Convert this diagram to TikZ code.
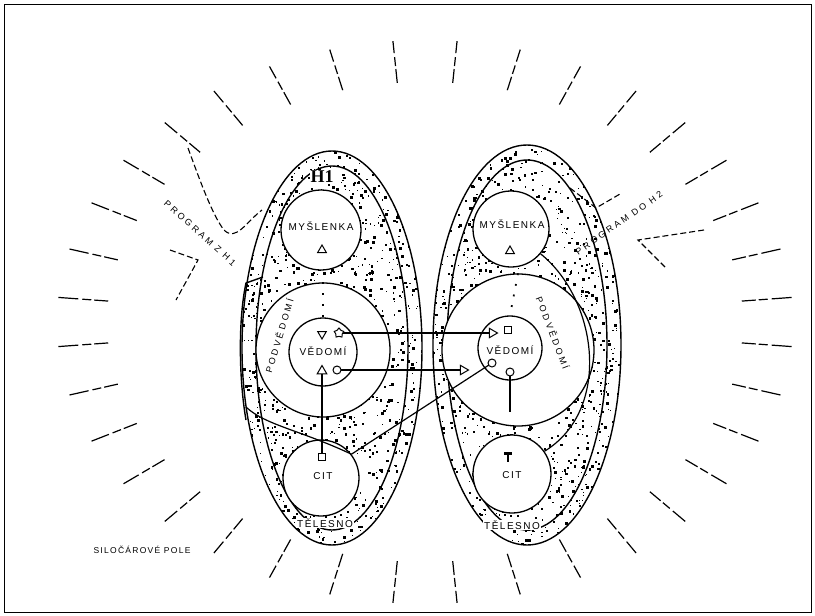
\documentclass[tikz,border=0pt]{standalone}
\usepackage{fontspec}
\setmainfont{Liberation Sans}
\newfontfamily\lab[LetterSpace=15]{Liberation Sans}
\newfontfamily\rlab[LetterSpace=30]{Liberation Sans}
\newfontfamily\hfont{Liberation Serif}
\usetikzlibrary{shapes.geometric,calc}
\begin{document}
\begin{tikzpicture}[x=1pt,y=-1pt,
  line/.style={line width=1.2pt},
  ell/.style={draw, line width=1.4pt},
  circ/.style={circle, draw, line width=1.3pt, fill=white, inner sep=0pt},
  txt/.style={font=\lab\fontsize{10}{11}\selectfont, inner sep=1pt},
  rtxt/.style={font=\rlab\fontsize{9}{10}\selectfont, inner sep=0pt},
  smalltxt/.style={font=\lab\fontsize{8.5}{10}\selectfont, inner sep=1pt},
  field/.style={line width=1.2pt, dash pattern=on 14pt off 3pt on 9pt off 4pt on 22pt off 2pt},
  prog/.style={line width=1.1pt, dash pattern=on 6pt off 3pt},
  sym/.style={draw, line width=1pt, inner sep=0pt, fill=white},
  dotl/.style={line width=1.8pt, dash pattern=on 1.8pt off 9pt},
]
\useasboundingbox (0,0) rectangle (815,616);
\draw[line width=1pt] (4,4) rectangle (811,612);

% force field
\coordinate (C) at (425,322);
\foreach \a in {5,15,...,355}
  \draw[field] ($(C)+(\a:318pt and 240pt)$) -- ($(C)+(\a:368pt and 282pt)$);

% speckle in ellipses
\begin{scope}
\clip (332,348) ellipse [x radius=90pt, y radius=197pt];
\pgfmathsetseed{4242}
\foreach \i in {1,...,1400}{
  \pgfmathsetmacro\px{242+180*rnd}
  \pgfmathsetmacro\py{151+394*rnd}
  \pgfmathsetmacro\s{0.8+2.2*rnd}
  \fill (\px,\py) rectangle ++(\s,\s);
}
\end{scope}
\begin{scope}
\clip (527,345) ellipse [x radius=94pt, y radius=200pt];
\pgfmathsetseed{777}
\foreach \i in {1,...,1500}{
  \pgfmathsetmacro\px{433+188*rnd}
  \pgfmathsetmacro\py{145+400*rnd}
  \pgfmathsetmacro\s{0.8+2.2*rnd}
  \fill (\px,\py) rectangle ++(\s,\s);
}
\end{scope}

% ellipses
\draw[ell] (332,348) ellipse [x radius=90pt, y radius=197pt];
\draw[ell] (332,348) ellipse [x radius=76pt, y radius=182pt];
\draw[ell] (527,345) ellipse [x radius=94pt, y radius=200pt];
\draw[ell] (527,345) ellipse [x radius=80pt, y radius=185pt];
\draw[ell] (263,277) -- (246,283) .. controls (238,320) and (239,380) .. (246,420);

% circles left
\node[circ, minimum size=80pt] (lmys) at (321,230) {};
\node[circ, minimum size=134pt] (lpod) at (323,350) {};
\node[circ, minimum size=68pt] (lved) at (323,352) {};
\node[circ, minimum size=76pt] (lcit) at (321,478) {};
% circles right
\node[circ, minimum size=76pt] (rmys) at (511,229) {};
\node[circ, minimum size=152pt] (rpod) at (518,350) {};
\node[circ, minimum size=64pt] (rved) at (510,348) {};
\node[circ, minimum size=78pt] (rcit) at (512,474) {};

\draw[dotl] (lpod.north) -- (lved.north);
\draw[dotl] (rpod.north) -- (rved.north);

% connectors
\coordinate (rv) at (510,412);
\coordinate (vl) at (246,407);
\draw[line] (339,333) -- (492,333);
\draw[line] (337,370) -- (463,370);
\draw[line] (492,363) -- (lcit.38);
\draw[line] (322,371) -- (322,457);
\draw[line] (510,372) -- (rv);
\draw[line] (rmys.-40) .. controls (598,300) and (612,410) .. (rcit.35);
\draw[line] (vl) .. controls (265,425) and (300,430) .. (lcit.38);

% symbols
\node[sym, regular polygon, regular polygon sides=3, shape border rotate=180, minimum size=10pt] (lq) at (322,334) {};
\node[sym, star, star points=5, minimum size=10pt] (lst) at (339,333) {};
\node[sym, regular polygon, regular polygon sides=3, minimum size=11pt] (lt) at (322,371) {};
\node[sym, circle, minimum size=8pt] (lc) at (337,370) {};
\node[sym, regular polygon, regular polygon sides=3, shape border rotate=-90, minimum size=11pt] (ra1) at (492,333) {};
\node[sym, rectangle, minimum size=7pt] (rs) at (508,330) {};
\node[sym, regular polygon, regular polygon sides=3, shape border rotate=-90, minimum size=11pt] (ra2) at (463,370) {};
\node[sym, circle, minimum size=8pt] (rc1) at (492,363) {};
\node[sym, circle, minimum size=8pt] (rc2) at (510,372) {};
\node[sym, rectangle, minimum size=7pt] (lcs) at (322,457) {};
\node[fill, minimum width=8pt, minimum height=3pt, inner sep=0pt] (rT) at (508,453) {};
\draw[line width=1.6pt] (rT.south) -- ++(0,7);
\node[sym, regular polygon, regular polygon sides=3, minimum size=10pt] (lmt) at (322,250) {};
\node[sym, regular polygon, regular polygon sides=3, minimum size=10pt] (rmt) at (510,251) {};

% program dashed curves
\coordinate (pL) at (262,210);
\draw[prog] (188,148) .. controls (198,175) and (212,215) .. (224,230) .. controls (236,242) and (246,222) .. (pL);
\draw[prog] (170,250) -- (198,260) -- (176,300);
\draw[prog] (704,230) -- (638,240) -- (666,268);
\draw[prog] (570,188) -- (596,208) -- (620,194);

% texts
\node[font=\hfont\bfseries\fontsize{18}{18}\selectfont, inner sep=1pt, fill=white] (h1) at (322,177) {H1};
\node[txt] (tlm) at (321,226) {MYŠLENKA};
\node[txt] (trm) at (512,224) {MYŠLENKA};
\node[txt] (tlv) at (323,351) {VĚDOMÍ};
\node[txt] (trv) at (510,350) {VĚDOMÍ};
\node[rtxt, rotate=73] (tlp) at (279,336) {PODVĚDOMÍ};
\node[rtxt, rotate=-69] (trp) at (553,333) {PODVĚDOMÍ};
\node[txt] (tlc) at (323,476) {CIT};
\node[txt] (trc) at (512,475) {CIT};
\node[txt, fill=white] (tlt) at (325,523) {TĚLESNO};
\node[txt, fill=white] (trt) at (512,525) {TĚLESNO};
\node[rtxt, rotate=-42] (tpl) at (200,233) {PROGRAM Z H1};
\node[rtxt, rotate=35] (tpr) at (619,223) {PROGRAM DO H2};
\node[smalltxt] (tsp) at (142,550) {SILOČÁROVÉ POLE};
\end{tikzpicture}
\end{document}
